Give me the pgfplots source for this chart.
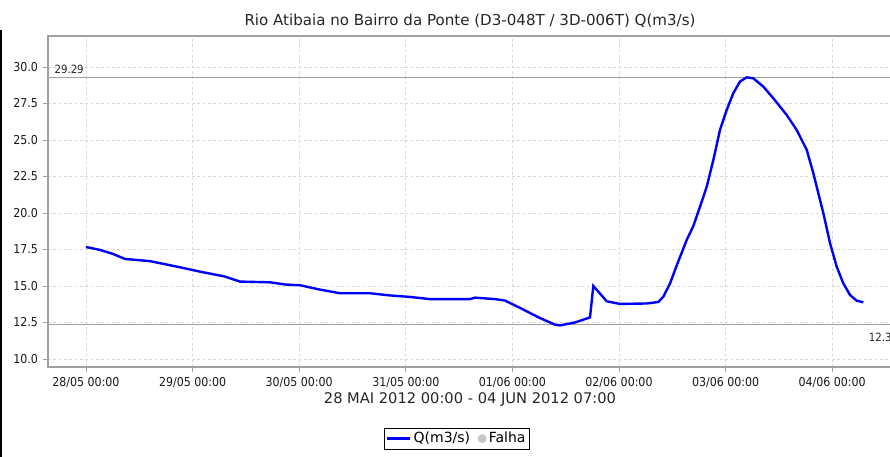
\documentclass[border=0pt]{standalone}
\usepackage{pgfplots}
\pgfplotsset{compat=1.18}
\usepackage{fontspec}
\setmainfont{DejaVu Sans}
\newfontfamily\cond{DejaVu Sans Condensed}
\definecolor{gridc}{RGB}{215,215,215}
\definecolor{framec}{RGB}{160,160,160}
\definecolor{qblue}{RGB}{0,0,255}
\begin{document}
\begin{tikzpicture}
\begin{axis}[
  at={(36pt,67.5pt)}, anchor=south west,
  scale only axis, width=633pt, height=248.25pt,
  xmin=-0.3565, xmax=7.561, ymin=9.45, ymax=32.12,
  xtick={0,1,2,3,4,5,6,7},
  xticklabels={28/05 00:00,29/05 00:00,30/05 00:00,31/05 00:00,01/06 00:00,02/06 00:00,03/06 00:00,04/06 00:00},
  ytick={10,12.5,15,17.5,20,22.5,25,27.5,30},
  yticklabel style={/pgf/number format/fixed, /pgf/number format/fixed zerofill, /pgf/number format/precision=1},
  /pgf/number format/assume math mode=true,
  ticklabel style={font=\cond\fontsize{9.2}{10}\selectfont, text=black!90},
  tick align=outside, tick pos=left, major tick length=4pt,
  tick style={framec, line width=0.6pt},
  axis line style={framec, line width=0.8pt},
  grid=major, grid style={gridc, dash pattern=on 2pt off 2pt, line width=0.5pt},
  xlabel={28 MAI 2012 00:00 - 04 JUN 2012 07:00},
  xlabel style={font=\fontsize{11}{13}\selectfont, text=black!85, yshift=3pt},
  title={Rio Atibaia no Bairro da Ponte (D3-048T / 3D-006T) Q(m3/s)},
  title style={font=\fontsize{11.3}{13}\selectfont, text=black!85, yshift=-3pt},
  legend style={at={(0.4846,-0.184)}, anchor=north, legend columns=2, draw=black, line width=0.6pt,
    font=\fontsize{10.5}{12}\selectfont, inner sep=1pt, /tikz/every even column/.append style={column sep=4pt}},
  legend cell align=left,
  clip=false,
]
\addplot[framec, line width=0.8pt, forget plot] coordinates {(-0.3565,29.29) (7.561,29.29)};
\addplot[framec, line width=0.8pt, forget plot] coordinates {(-0.3565,12.33) (7.561,12.33)};
\addplot[qblue, line width=1.8pt] coordinates {
(0,17.67) (0.131,17.47) (0.25,17.2) (0.366,16.85) (0.6,16.7) (0.835,16.35) (1.07,15.98)
(1.30,15.65) (1.445,15.3) (1.726,15.25) (1.867,15.1) (2.007,15.05) (2.195,14.75)
(2.383,14.5) (2.664,14.5) (2.852,14.35) (3.039,14.25) (3.227,14.1) (3.602,14.1)
(3.649,14.2) (3.837,14.1) (3.93,14.0) (4.071,13.5) (4.259,12.8) (4.40,12.35)
(4.446,12.3) (4.587,12.5) (4.69,12.75) (4.728,12.85) (4.759,15.0) (4.885,13.95)
(5.009,13.77) (5.26,13.8) (5.369,13.9) (5.416,14.27) (5.478,15.16) (5.541,16.4)
(5.635,18.15) (5.697,19.1) (5.76,20.43) (5.823,21.8) (5.885,23.63) (5.947,25.68)
(6.01,27.05) (6.072,28.2) (6.135,29.0) (6.198,29.29) (6.26,29.22) (6.354,28.65)
(6.448,27.85) (6.573,26.71) (6.667,25.68) (6.761,24.32) (6.823,22.72) (6.917,19.98)
(6.98,17.92) (7.042,16.32) (7.104,15.18) (7.167,14.38) (7.23,13.99) (7.292,13.88)
};
\addlegendentry{Q(m3/s)}
\addlegendimage{only marks, mark=*, mark size=3pt, mark options={draw=black!22, fill=black!22}}
\addlegendentry{Falha}
\node[anchor=south west, font=\cond\fontsize{8.5}{10}\selectfont, text=black!85, inner sep=1pt] at (axis cs:-0.31,29.45) {29.29};
\node[anchor=north west, font=\cond\fontsize{8.5}{10}\selectfont, text=black!85, inner sep=1pt] at (axis cs:7.33,11.9) {12.3};
\end{axis}
\draw[black, line width=1.5pt] (0.75pt,0pt) -- (0.75pt,320.25pt);
\pgfresetboundingbox
\useasboundingbox (0pt,0pt) rectangle (667.5pt,342.75pt);
\end{tikzpicture}
\end{document}
